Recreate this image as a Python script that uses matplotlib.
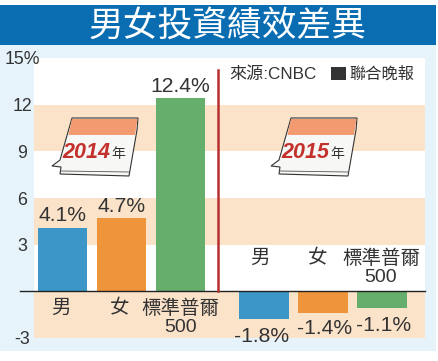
import matplotlib.pyplot as plt
from matplotlib.patches import Polygon, Rectangle

plt.rcParams['font.family'] = ['Liberation Sans', 'Noto Sans CJK TC', 'DejaVu Sans']

title = "男女投資績效差異"
source = "來源:CNBC"
paper = "聯合晚報"
categories = ["男", "女", "標準普爾\n500"]
values_2014 = [4.1, 4.7, 12.4]
values_2015 = [-1.8, -1.4, -1.1]
bar_colors = ["#3c97c8", "#ee953c", "#66ae6c"]
yticks = [-3, 3, 6, 9, 12, 15]
ytick_labels = ["-3", "3", "6", "9", "12", "15%"]
years = ["2014", "2015"]

W, H = 438, 361
DPI = 100
BAND = "#fbe3ca"
TEXT = "#333333"


def px(n):
    return n * 72 / DPI


fig = plt.figure(figsize=(W / DPI, H / DPI), dpi=DPI, facecolor="white")

# background, title bar
bg = fig.add_axes([0, 0, 1, 1], zorder=0)
bg.set_xlim(0, W)
bg.set_ylim(H, 0)
bg.axis("off")
bg.add_patch(Rectangle((0, 45), 436, 306, fc="#e6f3fb", ec="none"))
bg.add_patch(Rectangle((0, 5), 436, 40, fc="#0a6db1", ec="none"))
bg.text(228, 26, title, color="white", fontsize=25, ha="center", va="center",
        family=["Noto Sans CJK TC"], weight="medium")

# main chart, x unit = one bar pitch (59 px)
left, right, top, bottom = 34, 425, 58, 338
ax = fig.add_axes([left / W, 1 - bottom / H, (right - left) / W, (bottom - top) / H], zorder=1)
x0 = (left - 62.5) / 59
x1 = (right - 62.5) / 59
ax.set_xlim(x0, x1)
ax.set_ylim(-3, 15)
for lo, hi in [(9, 12), (3, 6), (-3, 0)]:
    ax.axhspan(lo, hi, color=BAND, lw=0, zorder=0)
for s in ax.spines.values():
    s.set_visible(False)

pos_2014 = [0, 1, 2]
pos_2015 = [3.415, 4.415, 5.415]
ax.bar(pos_2014, values_2014, width=0.84, color=bar_colors, zorder=2)
ax.bar(pos_2015, values_2015, width=0.84, color=bar_colors, zorder=2)

ax.set_xticks([])
ax.set_yticks(yticks)
ax.set_yticklabels(ytick_labels, ha="center", fontsize=12.8, color=TEXT)
ax.tick_params(axis="y", length=0, pad=px(12))

# zero line runs out into the margin, divider between the years
ax.plot([(20 - 62.5) / 59, x1], [0, 0], color="#222222", lw=1, clip_on=False, zorder=3)
ax.plot([(218 - 62.5) / 59] * 2, [0, 14.2], color="#b5302f", lw=1.8, zorder=3)

# value labels
for x, v in zip(pos_2014, values_2014):
    ax.annotate(f"{v}%", (x, v), xytext=(0, px(12)), textcoords="offset points",
                ha="center", va="center", fontsize=15.2, color=TEXT, zorder=4)
for x, v, dx, dy in zip(pos_2015, values_2015, [-2, 2, 2], [17, 15, 17]):
    ax.annotate(f"{v}%", (x, v), xytext=(px(dx), -px(dy)), textcoords="offset points",
                ha="center", va="center", fontsize=15.2, color=TEXT, zorder=4)

# category labels
for x, c in zip(pos_2014, categories):
    ax.annotate(c, (x, 0), xytext=(px(-2 if x < 2 else 0), -px(8)), textcoords="offset points",
                ha="center", va="top", fontsize=14, color=TEXT, linespacing=1.12, zorder=4)
for x, c, dx in zip(pos_2015, categories, [-4, -5, -1]):
    ax.annotate(c, (x, 0), xytext=(px(dx), px(42)), textcoords="offset points",
                ha="center", va="top", fontsize=14, color=TEXT, linespacing=1.12, zorder=4)

# overlay in pixel coordinates: source and calendars
ov = fig.add_axes([0, 0, 1, 1], zorder=2)
ov.set_xlim(0, W)
ov.set_ylim(H, 0)
ov.axis("off")
ov.patch.set_alpha(0)
ov.text(229, 74, source, fontsize=12.3, color=TEXT, ha="left", va="center")
ov.add_patch(Rectangle((331, 67), 15, 13, fc="#333333", ec="none"))
ov.text(349, 74, paper, fontsize=11.7, color=TEXT, ha="left", va="center")


def calendar(dx, year):
    shape = [(72, 118), (138, 118), (137, 130), (129, 176), (60, 174),
             (61, 167), (52, 166), (60, 160)]
    shape = [(x + dx, y) for x, y in shape]
    ov.add_patch(Polygon(shape, closed=True, fc="#f7f7f5", ec="#333333", lw=0.8))
    band = [(72, 119), (137.5, 119), (135, 135), (68.5, 135)]
    band = [(x + dx, y) for x, y in band]
    ov.add_patch(Polygon(band, closed=True, fc="#f29a70", ec="none"))
    ov.plot([61 + dx, 129 + dx], [171, 172], color="#555555", lw=0.6)
    ov.text(62.5 + dx, 152, year, color="#c4302b", fontsize=15.5, weight="bold",
            style="italic", ha="left", va="center", family=["Liberation Sans"])
    ov.text(111 + dx, 154, "年", color="#333333", fontsize=10, style="italic",
            ha="left", va="center", family=["Noto Sans CJK TC"])


calendar(0, years[0])
calendar(219, years[1])

fig.savefig("out.png", dpi=DPI)
